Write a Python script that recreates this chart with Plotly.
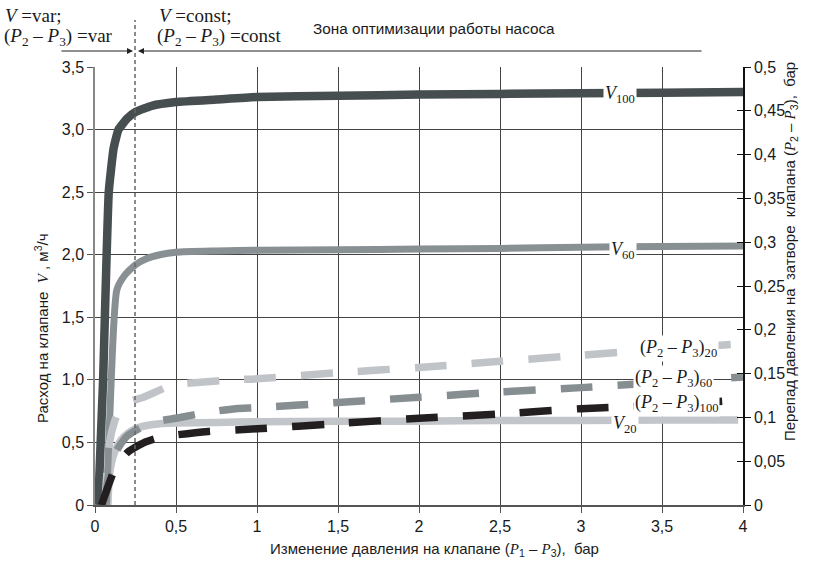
import plotly.graph_objects as go

# ---------------- data ----------------
# flow curves, V (m3/h) vs (P1-P3), bar  (left axis)
v100_x = [0.02, 0.05, 0.085, 0.115, 0.145, 0.2, 0.25, 0.35, 0.5, 0.75, 1.0, 1.5, 2.0, 2.5, 3.0, 3.5, 4.0]
v100_y = [0.0, 1.0, 2.5, 2.85, 3.0, 3.09, 3.14, 3.19, 3.22, 3.24, 3.26, 3.27, 3.28, 3.285, 3.29, 3.295, 3.30]

v60_x = [0.07, 0.1, 0.135, 0.18, 0.25, 0.32, 0.4, 0.5, 0.75, 1.0, 1.5, 2.0, 2.5, 3.0, 3.5, 4.0]
v60_y = [0.0, 1.0, 1.72, 1.83, 1.92, 1.97, 2.0, 2.02, 2.03, 2.035, 2.04, 2.045, 2.05, 2.06, 2.065, 2.07]

v20_x = [0.08, 0.09, 0.12, 0.16, 0.2, 0.25, 0.32, 0.4, 0.5, 0.75, 1.0, 1.5, 2.0, 2.5, 3.0, 3.5, 3.97]
v20_y = [0.0, 0.25, 0.42, 0.52, 0.57, 0.61, 0.635, 0.65, 0.655, 0.66, 0.665, 0.67, 0.67, 0.675, 0.675, 0.68, 0.68]

# pressure drop on the valve gate (P2-P3), bar  (right axis)
p20_x = [0.06, 0.09, 0.12, 0.15, 0.2, 0.3, 0.48, 0.65, 0.85, 1.0, 1.5, 2.0, 2.5, 3.0, 3.5, 4.0]
p20_y = [0.0, 0.071, 0.095, 0.108, 0.117, 0.123, 0.137, 0.140, 0.143, 0.144, 0.151, 0.157, 0.164, 0.171, 0.178, 0.184]

p60_x = [0.06, 0.1, 0.15, 0.2, 0.3, 0.4, 0.5, 0.7, 0.87, 1.0, 1.5, 2.0, 2.5, 3.0, 3.5, 4.0]
p60_y = [0.0, 0.05, 0.067, 0.079, 0.09, 0.096, 0.099, 0.106, 0.11, 0.111, 0.117, 0.123, 0.129, 0.134, 0.14, 0.146]

p100_x = [0.04, 0.08, 0.12, 0.2, 0.3, 0.4, 0.5, 0.7, 1.0, 1.5, 2.0, 2.5, 3.0, 3.5, 4.0]
p100_y = [0.0, 0.021, 0.04, 0.06, 0.071, 0.077, 0.08, 0.084, 0.087, 0.093, 0.099, 0.104, 0.11, 0.114, 0.12]

# ticks
x_ticks = [0, 0.5, 1, 1.5, 2, 2.5, 3, 3.5, 4]
x_labels = ["0", "0,5", "1", "1,5", "2", "2,5", "3", "3,5", "4"]
yl_ticks = [0, 0.5, 1.0, 1.5, 2.0, 2.5, 3.0, 3.5]
yl_labels = ["0", "0,5", "1,0", "1,5", "2,0", "2,5", "3,0", "3,5"]
yr_ticks = [0, 0.05, 0.1, 0.15, 0.2, 0.25, 0.3, 0.35, 0.4, 0.45, 0.5]
yr_labels = ["0", "0,05", "0,1", "0,15", "0,2", "0,25", "0,3", "0,35", "0,4", "0,45", "0,5"]

boundary_x = 0.247  # V=var / V=const boundary

# ---------------- figure ----------------
L, R, T, B = 95, 71, 67, 56
W, H = 814, 561
PW, PH = W - L - R, H - T - B

def pxx(xp):
    return (xp - L) / PW

def pxy(yp):
    return (H - B - yp) / PH

SANS = "Liberation Sans, Arial, sans-serif"
SERIF = "Liberation Serif, Times New Roman, serif"

fig = go.Figure()

def add_line(x, y, color, width, dash="solid", yaxis="y", smooth=0.6):
    fig.add_trace(go.Scatter(
        x=x, y=y, mode="lines", yaxis=yaxis,
        line=dict(color=color, width=width, dash=dash, shape="spline", smoothing=smooth),
        hoverinfo="skip", showlegend=False))

add_line(v20_x, v20_y, "#c2c5c9", 7.5)
add_line(p20_x, p20_y, "#c0c3c7", 7.5, dash="32px,25px", yaxis="y2")
add_line(p60_x, p60_y, "#878e92", 7.5, dash="32px,25px", yaxis="y2")
add_line(p100_x, p100_y, "#231f20", 7.5, dash="32px,25px", yaxis="y2")
add_line(v60_x, v60_y, "#899094", 7)
add_line(v100_x, v100_y, "#464e50", 8.5, smooth=0.4)
# invisible helper trace so the inner tick axis (y3) of the right scale is drawn
fig.add_trace(go.Scatter(x=p100_x, y=p100_y, mode="lines", yaxis="y3",
                         line=dict(width=0, color="rgba(0,0,0,0)"),
                         hoverinfo="skip", showlegend=False))

grid = "#444444"
fig.update_layout(
    width=W, height=H,
    margin=dict(l=L, r=R, t=T, b=B, pad=0),
    paper_bgcolor="white", plot_bgcolor="white",
    showlegend=False,
    font=dict(family=SANS, size=16, color="#1a1a1a"),
    xaxis=dict(range=[0, 4], tickvals=x_ticks, ticktext=x_labels,
               showgrid=True, gridcolor=grid, gridwidth=1,
               showline=True, linecolor="#555555", linewidth=1.5,
               ticks="outside", ticklen=6, tickcolor="#555555",
               zeroline=False, tickfont=dict(size=16, family=SANS)),
    yaxis=dict(range=[0, 3.5], tickvals=yl_ticks, ticktext=yl_labels,
               showgrid=True, gridcolor=grid, gridwidth=1,
               showline=True, linecolor="#888888", linewidth=1.5,
               ticks="outside", ticklen=6, tickcolor="#555555",
               zeroline=False, tickfont=dict(size=16, family=SANS)),
    yaxis2=dict(range=[0, 0.5], tickvals=yr_ticks, ticktext=yr_labels,
                overlaying="y", side="right", anchor="x",
                showgrid=False, zeroline=False,
                showline=True, linecolor="#111111", linewidth=1.5,
                ticks="outside", ticklen=6, tickcolor="#111111",
                tickfont=dict(size=16, family=SANS)),
    yaxis3=dict(range=[0, 0.5], tickvals=yr_ticks, showticklabels=False,
                overlaying="y", side="right", anchor="x",
                showgrid=False, zeroline=False, showline=False,
                ticks="inside", ticklen=6, tickcolor="#111111"),
)

# vertical dashed boundary line (extends above the plot)
fig.add_shape(type="line", xref="paper", yref="paper",
              x0=boundary_x / 4, x1=boundary_x / 4, y0=0, y1=pxy(20),
              line=dict(color="#666666", width=1.5, dash="4px,3px"))

ann = []
# arrows at top
ann.append(dict(xref="paper", yref="paper", x=pxx(133), y=pxy(51), ax=-73, ay=0,
                text="", showarrow=True, arrowhead=2, arrowsize=1, arrowwidth=1.2,
                arrowcolor="#222222"))
ann.append(dict(xref="paper", yref="paper", x=pxx(138), y=pxy(51), ax=565, ay=0,
                text="", showarrow=True, arrowhead=2, arrowsize=1, arrowwidth=1.2,
                arrowcolor="#222222"))

def txt(x, y, s, size=19, fam=SERIF, xanchor="left", **kw):
    d = dict(xref="paper", yref="paper", x=x, y=y, text=s, showarrow=False,
             xanchor=xanchor, yanchor="middle",
             font=dict(family=fam, size=size, color="#1a1a1a"))
    d.update(kw)
    return d

P23 = "(<i>P</i><sub>2</sub> – <i>P</i><sub>3</sub>)"
ann.append(txt(pxx(3), pxy(16), "<i>V</i> =var;"))
ann.append(txt(pxx(2), pxy(37), P23 + " =var"))
ann.append(txt(pxx(157), pxy(16), "<i>V</i> =const;"))
ann.append(txt(pxx(155), pxy(37), P23 + " =const"))
ann.append(txt(pxx(311), pxy(28), "Зона оптимизации работы насоса", size=15.3, fam=SANS))

# axis titles
SI = "<i style='font-family:Liberation Serif'>"
ann.append(txt(pxx(434), pxy(549), "Изменение давления на клапане (" + SI + "P</i><sub>1</sub> – " + SI + "P</i><sub>3</sub>),  бар",
               size=15, fam=SANS, xanchor="center"))
ann.append(txt(pxx(41), pxy(328), "Расход на клапане  " + SI + "V</i> , м<sup>3</sup>/ч",
               size=15, fam=SANS, xanchor="center", textangle=-90))
ann.append(txt(pxx(791), pxy(252), "Перепад давления на  затворе  клапана (" + SI + "P</i><sub>2</sub> – " + SI + "P</i><sub>3</sub>),  бар",
               size=15, fam=SANS, xanchor="center", textangle=-90))

# curve labels (data coordinates on left axis)
def lab(x, y, s, size=18):
    return dict(xref="x", yref="y", x=x, y=y, text=s, showarrow=False,
                xanchor="center", yanchor="middle", bgcolor="white", borderpad=1,
                font=dict(family=SERIF, size=size, color="#1a1a1a"))

ann.append(lab(3.24, 3.28, "<i>V</i><sub>100</sub>"))
ann.append(lab(3.26, 2.03, "<i>V</i><sub>60</sub>"))
ann.append(lab(3.27, 0.64, "<i>V</i><sub>20</sub>"))
ann.append(lab(3.6, 1.25, P23 + "<sub>20</sub>"))
ann.append(lab(3.57, 1.01, P23 + "<sub>60</sub>"))
ann.append(lab(3.59, 0.81, P23 + "<sub>100</sub>"))

fig.update_layout(annotations=ann)

fig.write_html("out.html", config={"displayModeBar": False},
               post_script="document.body.style.margin='0';document.body.style.overflow='hidden';")
